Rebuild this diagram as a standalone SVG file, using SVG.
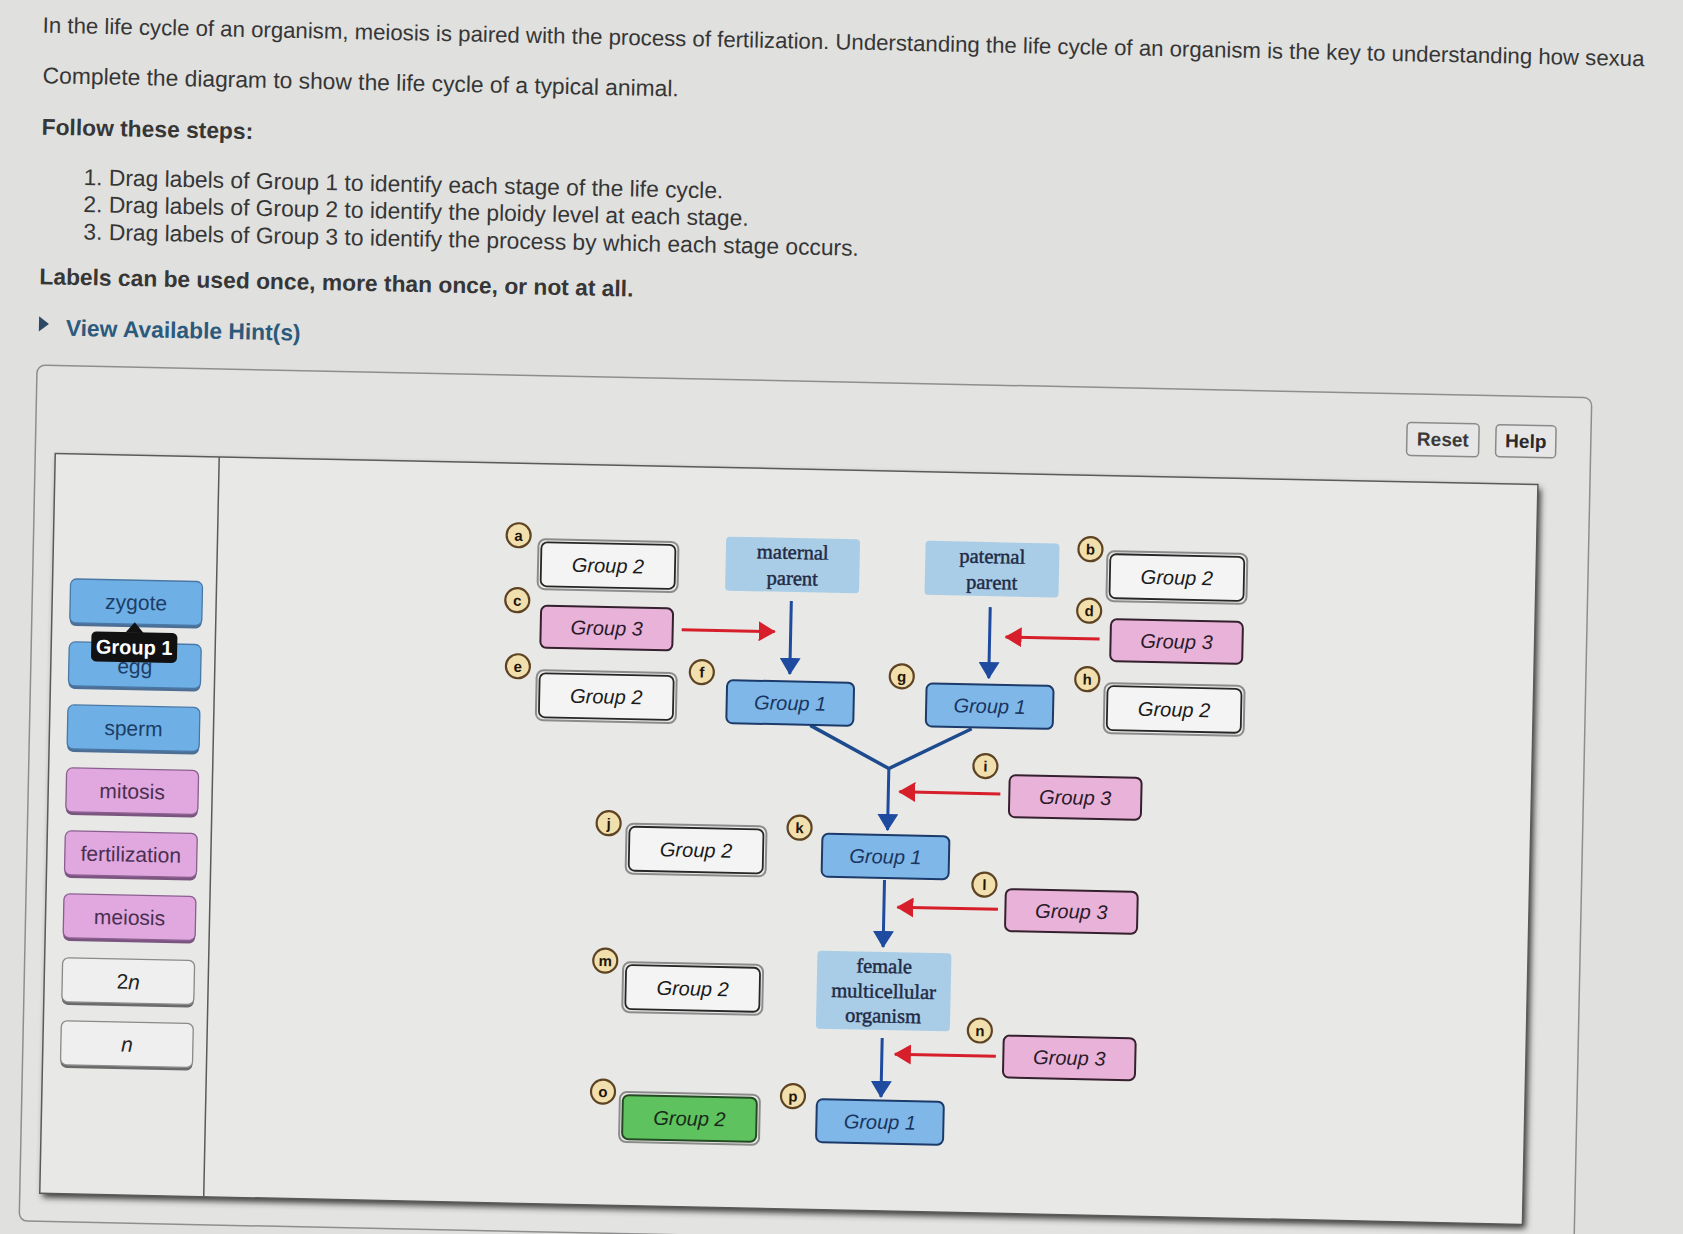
<svg xmlns="http://www.w3.org/2000/svg" width="1683" height="1234" viewBox="0 0 1683 1234">
<style>
.hd{font-family:"Liberation Sans",Arial,sans-serif;font-size:22.8px;fill:#363636}
.hb{font-weight:bold}
.lbl{font-family:"Liberation Sans",Arial,sans-serif;font-size:20px;text-anchor:middle;dominant-baseline:central}
.pl{font-size:21px}
.it{font-style:italic}
.ser{font-family:"Liberation Serif","Times New Roman",serif;font-size:20.5px;fill:#1f2a44;stroke:#1f2a44;stroke-width:0.45;text-anchor:middle;dominant-baseline:central}
.cl{fill:#f1dfae;stroke:#5e4322;stroke-width:2.2}
.ct{font-family:"Liberation Sans",Arial,sans-serif;font-size:15px;font-weight:bold;fill:#22150a;text-anchor:middle;dominant-baseline:central}
.pb{fill:#6eb0e6;stroke:#4a78a6;stroke-width:1.3}
.pbs{fill:#4d6f96}
.pp{fill:#e0a8df;stroke:#8a5f8f;stroke-width:1.3}
.pps{fill:#7a557f}
.pw{fill:#efefef;stroke:#8a8a8a;stroke-width:1.3}
.pws{fill:#6a6a6a}
.g1{fill:#7fb8e8;stroke:#1c3a6a;stroke-width:2}
.g3{fill:#e9b3d9;stroke:#35202e;stroke-width:2}
.g2{fill:#f4f4f4;stroke:#262626;stroke-width:1.8}
.g2o{fill:none;stroke:#8c8c8c;stroke-width:2}
.gg{fill:#5ec35e;stroke:#234a23;stroke-width:2}
.info{fill:#a9cde6}
.red{stroke:#d61f2a;stroke-width:3;fill:none}
.blue{stroke:#1e4aa0;stroke-width:3;fill:none}
.btn{fill:#e6e6e6;stroke:#8a8a8a;stroke-width:1.5}
</style>
<defs>
<marker id="ar" viewBox="0 0 17 20" refX="16" refY="10" markerWidth="17" markerHeight="20" markerUnits="userSpaceOnUse" orient="auto"><path d="M0,0 L17,10 L0,20 z" fill="#d61f2a"/></marker>
<marker id="ab" viewBox="0 0 17 21" refX="16" refY="10.5" markerWidth="17" markerHeight="21" markerUnits="userSpaceOnUse" orient="auto"><path d="M0,0 L17,10.5 L0,21 z" fill="#1e4aa0"/></marker>
<filter id="sh" x="-5%" y="-5%" width="110%" height="110%"><feGaussianBlur stdDeviation="3"/></filter>
</defs>
<rect x="0" y="0" width="1683" height="1234" fill="#e0e0de"/>
<g transform="rotate(1.2 841 617)">
<g id="header">
<text class="hd" x="30.5" y="49.5" style="font-size:22.2px">In the life cycle of an organism, meiosis is paired with the process of fertilization. Understanding the life cycle of an organism is the key to understanding how sexua</text>
<text class="hd" x="31.6" y="100">Complete the diagram to show the life cycle of a typical animal.</text>
<text class="hd hb" x="31.6" y="151.5">Follow these steps:</text>
<text class="hd" x="74.5" y="201">1. Drag labels of Group 1 to identify each stage of the life cycle.</text>
<text class="hd" x="75" y="228">2. Drag labels of Group 2 to identify the ploidy level at each stage.</text>
<text class="hd" x="75.6" y="255.5">3. Drag labels of Group 3 to identify the process by which each stage occurs.</text>
<text class="hd hb" x="32.5" y="301">Labels can be used once, more than once, or not at all.</text>
<polygon points="33,333 43,340.7 33,348.4" fill="#2c4a66"/>
<text class="hd hb" x="60" y="352" style="fill:#2c5a7c">View Available Hint(s)</text>
</g>
<g id="panel">
<rect x="32" y="382" width="1555" height="856" rx="8" fill="#e3e3e1" stroke="#8e8e8e" stroke-width="1.5"/>
<g id="reset"><rect class="btn" x="1403" y="410.5" width="72" height="33" rx="4"/><text class="lbl hb" x="1439" y="427" style="fill:#3a3a3a;font-size:19px">Reset</text></g>
<g id="help"><rect class="btn" x="1492" y="411" width="60" height="32" rx="4"/><text class="lbl hb" x="1522" y="427" style="fill:#2a2a2a;font-size:19px">Help</text></g>
<rect x="55" y="474" width="1483" height="740" fill="#3a3a3a" filter="url(#sh)"/>
<rect x="52" y="470" width="1483" height="740" fill="#e8e8e6" stroke="#5a5a5a" stroke-width="1.5"/>
<line x1="216" y1="470" x2="216" y2="1210" stroke="#5a5a5a" stroke-width="1.5"/>
</g>
<g id="palette">
<g id="p-zygote"><rect class="pbs" x="70" y="598" width="132" height="44" rx="6"/><rect class="pb" x="70" y="595" width="132" height="44" rx="6"/><text class="lbl pl" x="136" y="617" fill="#1d3d66">zygote</text></g>
<g id="p-egg"><rect class="pbs" x="70" y="661" width="132" height="44" rx="6"/><rect class="pb" x="70" y="658" width="132" height="44" rx="6"/><text class="lbl pl" x="136" y="681" fill="#1d3d66">egg</text></g>
<g id="p-sperm"><rect class="pbs" x="70" y="724" width="132" height="44" rx="6"/><rect class="pb" x="70" y="721" width="132" height="44" rx="6"/><text class="lbl pl" x="136" y="743" fill="#1d3d66">sperm</text></g>
<g id="p-mitosis"><rect class="pps" x="70" y="787" width="132" height="44" rx="6"/><rect class="pp" x="70" y="784" width="132" height="44" rx="6"/><text class="lbl pl" x="136" y="806" fill="#4a2f50">mitosis</text></g>
<g id="p-fertilization"><rect class="pps" x="70" y="850" width="132" height="44" rx="6"/><rect class="pp" x="70" y="847" width="132" height="44" rx="6"/><text class="lbl pl" x="136" y="869" fill="#4a2f50">fertilization</text></g>
<g id="p-meiosis"><rect class="pps" x="70" y="913" width="132" height="44" rx="6"/><rect class="pp" x="70" y="910" width="132" height="44" rx="6"/><text class="lbl pl" x="136" y="932" fill="#4a2f50">meiosis</text></g>
<g id="p-2n"><rect class="pws" x="70" y="977" width="132" height="44" rx="6"/><rect class="pw" x="70" y="974" width="132" height="44" rx="6"/><text class="lbl pl" x="136" y="996" fill="#222">2<tspan class="it">n</tspan></text></g>
<g id="p-n"><rect class="pws" x="70" y="1040" width="132" height="44" rx="6"/><rect class="pw" x="70" y="1037" width="132" height="44" rx="6"/><text class="lbl pl it" x="136" y="1059" fill="#222">n</text></g>
<g id="tooltip"><polygon points="126,647.5 135,637 144,647.5" fill="#111"/><rect x="92" y="647" width="86" height="30" rx="5" fill="#111"/><text class="lbl hb" x="135" y="662" fill="#fff">Group 1</text></g>
</g>
<g id="connectors">
<path class="red" d="M682,633 H775" marker-end="url(#ar)"/>
<path class="blue" d="M791,602 V675" marker-end="url(#ab)"/>
<path class="blue" d="M990,604 V675" marker-end="url(#ab)"/>
<path class="red" d="M1100,633.5 H1006" marker-end="url(#ar)"/>
<path d="M812.6,726 L892,767.5 L974,726" fill="none" stroke="#1e4a8e" stroke-width="3.5" stroke-linejoin="miter"/>
<path class="blue" d="M892,767.5 V829" marker-end="url(#ab)"/>
<path class="red" d="M1004,790.5 H903" marker-end="url(#ar)"/>
<path class="blue" d="M890,879 V946" marker-end="url(#ab)"/>
<path class="red" d="M1004,906 H903.5" marker-end="url(#ar)"/>
<path class="blue" d="M891,1037 V1096" marker-end="url(#ab)"/>
<path class="red" d="M1005,1053 H904" marker-end="url(#ar)"/>
</g>
<g id="node-a"><circle class="cl" cx="517" cy="542" r="12"/><text class="ct" x="517" y="542">a</text><rect class="g2o" x="537" y="545.5" width="140" height="50" rx="7"/><rect class="g2" x="540" y="548.5" width="134" height="44" rx="6"/><text class="lbl it" x="607" y="570.5" fill="#1a1a1a">Group 2</text></g>
<g id="node-c"><circle class="cl" cx="517" cy="607" r="12"/><text class="ct" x="517" y="607">c</text><rect class="g3" x="541" y="612" width="132" height="42" rx="6"/><text class="lbl it" x="607" y="633" fill="#2a1a2a">Group 3</text></g>
<g id="node-e"><circle class="cl" cx="519" cy="673" r="12"/><text class="ct" x="519" y="673">e</text><rect class="g2o" x="538" y="676.5" width="140" height="50" rx="7"/><rect class="g2" x="541" y="679.5" width="134" height="44" rx="6"/><text class="lbl it" x="608" y="701.5" fill="#1a1a1a">Group 2</text></g>
<g id="node-maternal"><rect class="info" x="724.5" y="539" width="134" height="54" rx="4"/><text class="ser" x="791.5" y="553">maternal</text><text class="ser" x="791.5" y="579">parent</text></g>
<g id="node-paternal"><rect class="info" x="924" y="539" width="134" height="54" rx="4"/><text class="ser" x="991" y="553">paternal</text><text class="ser" x="991" y="579">parent</text></g>
<g id="node-f"><circle class="cl" cx="703" cy="675" r="12"/><text class="ct" x="703" y="675">f</text><rect class="g1" x="728.5" y="682.5" width="127" height="43" rx="6"/><text class="lbl it" x="792" y="704" fill="#1a3560">Group 1</text></g>
<g id="node-g"><circle class="cl" cx="903" cy="675" r="12"/><text class="ct" x="903" y="675">g</text><rect class="g1" x="928" y="681.5" width="127" height="43" rx="6"/><text class="lbl it" x="991.5" y="703" fill="#1a3560">Group 1</text></g>
<g id="node-b"><circle class="cl" cx="1089" cy="544" r="12"/><text class="ct" x="1089" y="544">b</text><rect class="g2o" x="1106" y="545.5" width="140" height="50" rx="7"/><rect class="g2" x="1109" y="548.5" width="134" height="44" rx="6"/><text class="lbl it" x="1176" y="570.5" fill="#1a1a1a">Group 2</text></g>
<g id="node-d"><circle class="cl" cx="1089" cy="605.5" r="12"/><text class="ct" x="1089" y="605.5">d</text><rect class="g3" x="1111" y="613.5" width="132" height="42" rx="6"/><text class="lbl it" x="1177" y="634.5" fill="#2a1a2a">Group 3</text></g>
<g id="node-h"><circle class="cl" cx="1088.5" cy="674" r="12"/><text class="ct" x="1088.5" y="674">h</text><rect class="g2o" x="1106" y="677.5" width="140" height="50" rx="7"/><rect class="g2" x="1109" y="680.5" width="134" height="44" rx="6"/><text class="lbl it" x="1176" y="702.5" fill="#1a1a1a">Group 2</text></g>
<g id="node-i"><circle class="cl" cx="988.5" cy="763" r="12"/><text class="ct" x="988.5" y="763">i</text><rect class="g3" x="1013" y="771.5" width="132" height="42" rx="6"/><text class="lbl it" x="1079" y="792.5" fill="#2a1a2a">Group 3</text></g>
<g id="node-j"><circle class="cl" cx="613" cy="828" r="12"/><text class="ct" x="613" y="828">j</text><rect class="g2o" x="631" y="828" width="140" height="50" rx="7"/><rect class="g2" x="634" y="831" width="134" height="44" rx="6"/><text class="lbl it" x="701" y="853" fill="#1a1a1a">Group 2</text></g>
<g id="node-k"><circle class="cl" cx="804" cy="828.5" r="12"/><text class="ct" x="804" y="828.5">k</text><rect class="g1" x="827" y="834" width="127" height="43" rx="6"/><text class="lbl it" x="890.5" y="855.5" fill="#1a3560">Group 1</text></g>
<g id="node-l"><circle class="cl" cx="990" cy="881.5" r="12"/><text class="ct" x="990" y="881.5">l</text><rect class="g3" x="1011.5" y="885.5" width="132" height="42" rx="6"/><text class="lbl it" x="1077.5" y="906.5" fill="#2a1a2a">Group 3</text></g>
<g id="node-m"><circle class="cl" cx="612.5" cy="965.5" r="12"/><text class="ct" x="612.5" y="965.5">m</text><rect class="g2o" x="630.5" y="966.5" width="140" height="50" rx="7"/><rect class="g2" x="633.5" y="969.5" width="134" height="44" rx="6"/><text class="lbl it" x="700.5" y="991.5" fill="#1a1a1a">Group 2</text></g>
<g id="node-female"><rect class="info" x="824.5" y="951" width="134" height="78" rx="4"/><text class="ser" x="891.5" y="965">female</text><text class="ser" x="891.5" y="990">multicellular</text><text class="ser" x="891.5" y="1014.5">organism</text></g>
<g id="node-n"><circle class="cl" cx="988.5" cy="1027.5" r="12"/><text class="ct" x="988.5" y="1027.5">n</text><rect class="g3" x="1012.5" y="1032" width="132" height="42" rx="6"/><text class="lbl it" x="1078.5" y="1053" fill="#2a1a2a">Group 3</text></g>
<g id="node-o"><circle class="cl" cx="613" cy="1096.5" r="12"/><text class="ct" x="613" y="1096.5">o</text><rect class="g2o" x="630" y="1096.5" width="140" height="50" rx="7"/><rect class="gg" x="633" y="1099.5" width="134" height="44" rx="6"/><text class="lbl it" x="700" y="1121.5" fill="#1a2a1a">Group 2</text></g>
<g id="node-p"><circle class="cl" cx="803" cy="1097" r="12"/><text class="ct" x="803" y="1097">p</text><rect class="g1" x="827" y="1099.5" width="127" height="43" rx="6"/><text class="lbl it" x="890.5" y="1121" fill="#1a3560">Group 1</text></g>
</g>
</svg>
